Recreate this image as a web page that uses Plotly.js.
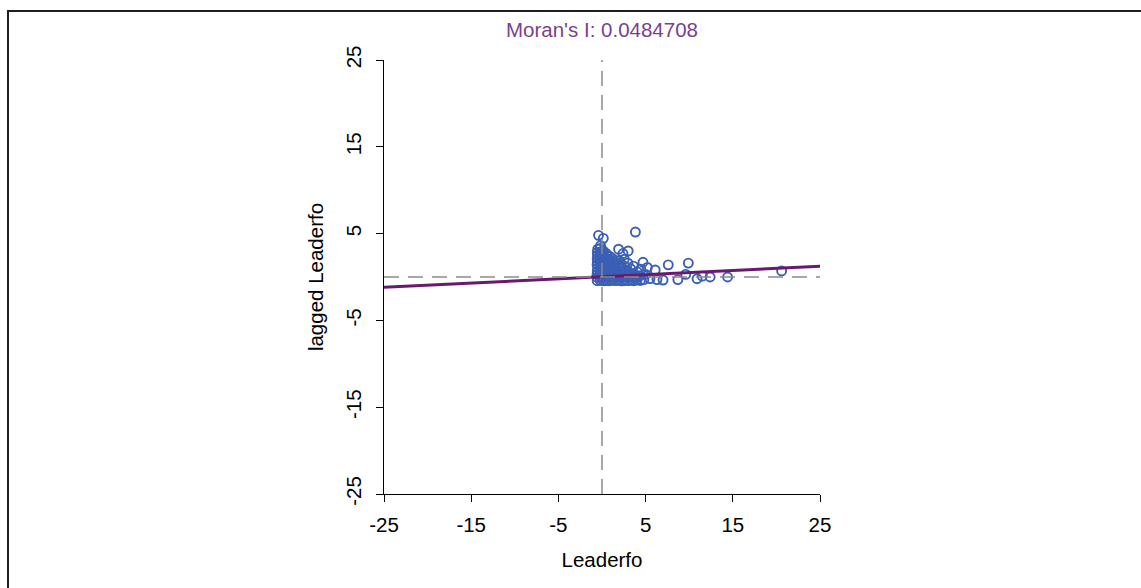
<!DOCTYPE html>
<html>
<head>
<meta charset="utf-8">
<script src="https://cdn.plot.ly/plotly-3.0.1.min.js"></script>
<style>
  html, body { margin: 0; padding: 0; background: #ffffff; overflow: hidden; }
  #frame { position: absolute; left: 7px; top: 10px; width: 1200px; height: 700px;
           border-top: 2px solid #1e1e1e; border-left: 2px solid #1e1e1e; pointer-events: none; z-index: 5; }
  #chart { position: absolute; left: 0; top: 0; width: 1141px; height: 588px; }
</style>
</head>
<body>
<div id="chart"></div>
<div id="frame"></div>
<script>
// Moran scatterplot: Leaderfo against its spatial lag
const leaderfo = [
  -0.55, -0.52, -0.57, -0.54, -0.50, -0.56, -0.53, -0.55, -0.51, -0.54, -0.49,
  -0.21, -0.18, -0.23, -0.20, -0.17, -0.22, -0.19, -0.24, -0.20, -0.18, -0.22, -0.16,
  0.15, 0.12, 0.18, 0.14, 0.17, 0.11, 0.16, 0.13, 0.19, 0.15, 0.12,
  0.50, 0.47, 0.53, 0.49, 0.52, 0.46, 0.51, 0.48, 0.54, 0.50,
  0.85, 0.82, 0.88, 0.84, 0.87, 0.81, 0.86, 0.83, 0.89,
  1.20, 1.17, 1.23, 1.19, 1.22, 1.16, 1.21, 1.18,
  1.55, 1.52, 1.58, 1.54, 1.57, 1.51, 1.56,
  1.90, 1.87, 1.93, 1.89, 1.92, 1.86, 1.95,
  2.25, 2.22, 2.28, 2.24, 2.27, 2.21,
  2.60, 2.57, 2.63, 2.59, 2.62, 2.55,
  2.95, 2.92, 2.98, 2.94, 2.97,
  3.30, 3.27, 3.33, 3.29,
  3.65, 3.62, 3.68, 3.60,
  4.00, 3.97, 4.05,
  4.40, 4.37, 4.45,
  3.83, -0.40, 0.15, 1.90, 3.00, 2.40, 4.70, 5.20, 6.10, 5.50, 6.30, 7.00,
  7.60, 8.70, 9.90, 9.60, 10.90, 11.50, 12.40, 14.40, 20.60, 5.00, 4.80
];
const laggedLeaderfo = [
  -0.42, -0.05, 0.31, 0.68, 1.02, 1.41, 1.77, 2.12, 2.49, 2.83, 3.21,
  -0.38, 0.02, 0.35, 0.72, 1.08, 1.44, 1.81, 2.18, 2.55, 2.90, 3.30, 3.62,
  -0.45, -0.10, 0.27, 0.63, 0.98, 1.36, 1.70, 2.06, 2.42, 2.78, 3.05,
  -0.40, -0.02, 0.33, 0.70, 1.05, 1.43, 1.78, 2.12, 2.47, 2.70,
  -0.43, -0.07, 0.29, 0.66, 1.01, 1.37, 1.72, 2.05, 2.38,
  -0.37, 0.00, 0.36, 0.71, 1.08, 1.42, 1.80, 2.15,
  -0.41, -0.04, 0.31, 0.67, 1.03, 1.38, 1.74,
  -0.39, 0.02, 0.37, 0.73, 1.10, 1.45, 1.90,
  -0.44, -0.06, 0.30, 0.64, 1.00, 1.50,
  -0.40, 0.01, 0.35, 0.70, 1.22, 2.05,
  -0.42, -0.03, 0.32, 0.75, 1.60,
  -0.38, 0.04, 0.41, 0.95,
  -0.43, -0.05, 0.36, 1.25,
  -0.36, 0.08, 0.60,
  -0.40, 0.15, 0.90,
  5.18, 4.80, 4.45, 3.20, 3.00, 2.70, 1.70, 1.10, 0.80, -0.20, -0.30, -0.35,
  1.40, -0.30, 1.60, 0.30, -0.20, 0.10, 0.00, 0.00, 0.70, 0.30, -0.30
];

// Fitted lag regression: slope equals Moran's I
const moransI = 0.0484708;
const fitIntercept = 0.02;
const axisRange = [-25, 25];
const tickValues = [-25, -15, -5, 5, 15, 25];
const meanX = 0;
const meanLag = 0;

const fitX = [axisRange[0], axisRange[1]];
const fitY = fitX.map(v => fitIntercept + moransI * v);

const pointTrace = {
  x: leaderfo, y: laggedLeaderfo, type: 'scatter', mode: 'markers',
  marker: { symbol: 'circle-open', size: 9, color: '#3b5fb5', line: { width: 1.9, color: '#3b5fb5' } },
  hoverinfo: 'x+y', showlegend: false
};
const fitTrace = {
  x: fitX, y: fitY, type: 'scatter', mode: 'lines',
  line: { color: '#6a1a6e', width: 3 }, hoverinfo: 'skip', showlegend: false
};

const fontFamily = 'Liberation Sans, Arial, sans-serif';
const textSize = 20.5;

const layout = {
  width: 1141, height: 588,
  paper_bgcolor: '#ffffff', plot_bgcolor: '#ffffff',
  margin: { l: 384, r: 321, t: 60, b: 94, autoexpand: false },
  showlegend: false,
  title: {
    text: "Moran's I: 0.0484708",
    font: { family: fontFamily, size: textSize, color: '#7b3f91' },
    x: 0.5, xref: 'paper', xanchor: 'center',
    y: 1 - 30 / 588, yref: 'container', yanchor: 'middle'
  },
  xaxis: {
    range: axisRange, tickvals: tickValues, ticktext: tickValues.map(String),
    showgrid: false, zeroline: false, showline: true, linecolor: '#000000', linewidth: 1,
    ticks: 'outside', ticklen: 7, tickcolor: '#000000', tickwidth: 1,
    tickfont: { family: fontFamily, size: textSize, color: '#000000' },
    ticklabelstandoff: 5,
    title: { text: 'Leaderfo', font: { family: fontFamily, size: textSize, color: '#000000' }, standoff: 18 },
    automargin: false, fixedrange: true
  },
  yaxis: {
    range: axisRange, tickvals: tickValues, ticktext: tickValues.map(String),
    showgrid: false, zeroline: false, showline: true, linecolor: '#000000', linewidth: 1,
    ticks: 'outside', ticklen: 7, tickcolor: '#000000', tickwidth: 1,
    tickangle: -90,
    tickfont: { family: fontFamily, size: textSize, color: '#000000' },
    ticklabelstandoff: 7,
    title: { text: 'lagged Leaderfo', font: { family: fontFamily, size: textSize, color: '#000000' }, standoff: 12 },
    automargin: false, fixedrange: true
  },
  shapes: [
    { type: 'line', xref: 'paper', yref: 'y', x0: 0, x1: 1, y0: meanLag, y1: meanLag,
      line: { color: '#8a8a8a', width: 1.5, dash: '15px,9px' }, layer: 'above' },
    { type: 'line', xref: 'x', yref: 'paper', x0: meanX, x1: meanX, y0: 0, y1: 1,
      line: { color: '#8a8a8a', width: 1.5, dash: '15px,9px' }, layer: 'above' }
  ]
};

Plotly.newPlot('chart', [pointTrace, fitTrace], layout, { staticPlot: true, displayModeBar: false });
</script>
</body>
</html>
